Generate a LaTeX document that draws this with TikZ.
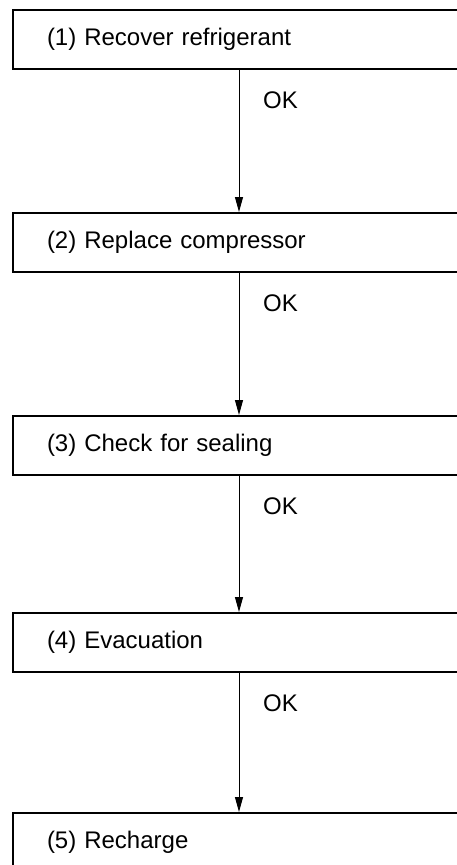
\documentclass[tikz,border=0pt]{standalone}
\usepackage{fontspec}
\setmainfont{Liberation Sans}
\usetikzlibrary{arrows.meta}
\begin{document}
\begin{tikzpicture}[x=1pt,y=-1pt,
  stepbox/.style={draw, line width=2pt, anchor=north west, minimum height=59pt,
    text width=450pt, inner xsep=34pt, inner ysep=0pt, align=left,
    font=\fontsize{24}{28}\selectfont},
  arr/.style={line width=1pt, -{Triangle[length=15pt,width=8pt]}},
  oklabel/.style={anchor=base west, inner sep=0pt, font=\fontsize{24}{28}\selectfont}]
\useasboundingbox (0,0) rectangle (457,865);
\clip (0,0) rectangle (457,865);
\node[stepbox] (b1) at (12,9) {(1) Recover refrigerant};
\node[stepbox] (b2) at (12,212) {(2) Replace compressor};
\node[stepbox] (b3) at (12,415) {(3) Check for sealing};
\node[stepbox] (b4) at (12,612) {(4) Evacuation};
\node[stepbox] (b5) at (12,812) {(5) Recharge};
\foreach \a/\b in {b1/b2,b2/b3,b3/b4,b4/b5}{
  \draw[arr] ([xshift=227pt]\a.south west) -- ([xshift=227pt]\b.north west);
  \node[oklabel] (ok\a) at ([xshift=251pt,yshift=-38pt]\a.south west) {OK};
}
\end{tikzpicture}
\end{document}
